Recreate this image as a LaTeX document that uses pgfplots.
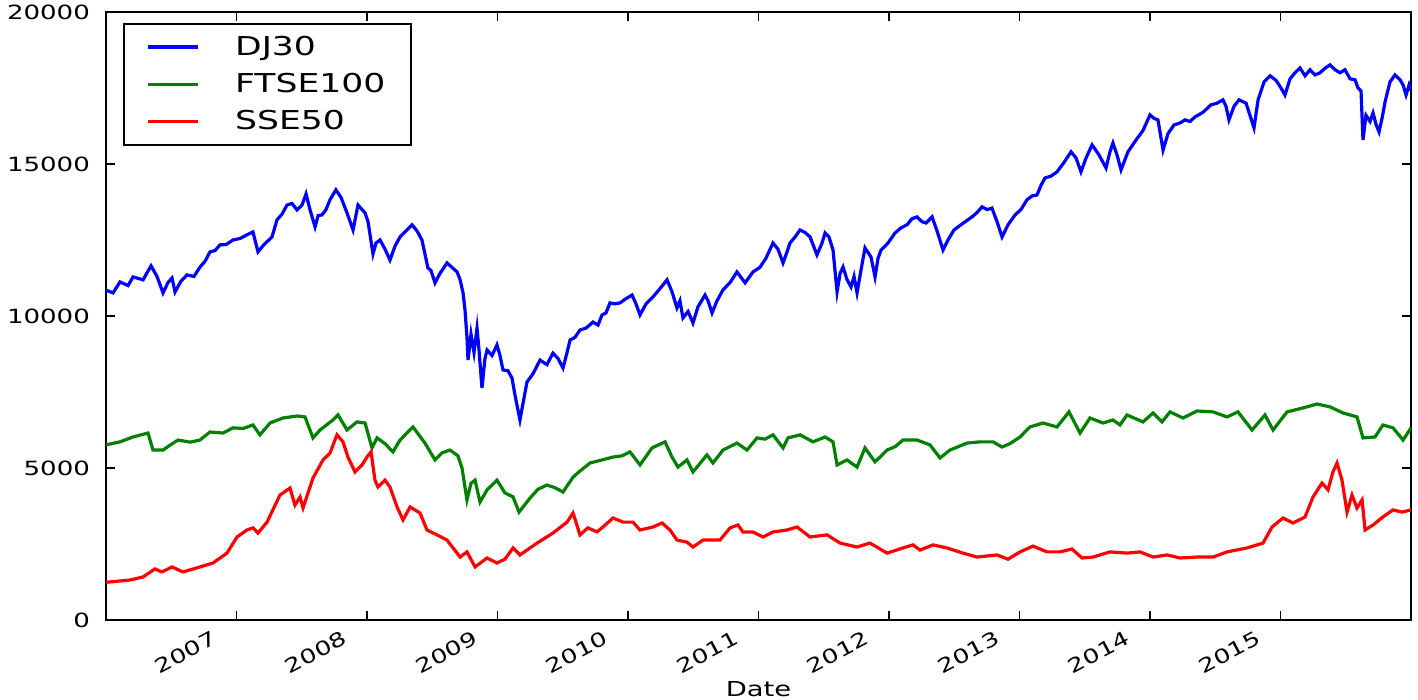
\documentclass[border=0pt]{standalone}
\usepackage{fontspec}
\setmainfont{DejaVu Sans}[FakeStretch=1.33]
\usepackage{pgfplots}
\pgfplotsset{compat=1.18}
\definecolor{mplblue}{RGB}{0,0,255}
\definecolor{mplgreen}{RGB}{0,128,0}
\definecolor{mplred}{RGB}{255,0,0}
\begin{document}
\begin{tikzpicture}
\begin{axis}[
  at={(53pt,40pt)}, anchor=south west,
  scale only axis, width=652.5pt, height=304pt,
  xmin=2006, xmax=2016, ymin=0, ymax=20000,
  xtick={2007,2008,2009,2010,2011,2012,2013,2014,2015},
  ytick={0,5000,10000,15000,20000},
  scaled y ticks=false, scaled x ticks=false,
  /pgf/number format/1000 sep={},
  /pgf/number format/assume math mode=true,
  tick pos=both, tick align=inside,
  major tick length=4.5pt,
  every tick/.style={black, line width=0.8pt},
  axis line style={line width=1pt},
  tick label style={font=\fontsize{9.8}{11}\selectfont},
  yticklabel style={xshift=-4.5pt},
  xticklabel style={rotate=28, anchor=north east, xshift=-10pt, yshift=5pt},
  xlabel={Date},
  xlabel style={at={(axis description cs:0.5,0)}, anchor=base, yshift=-38.5pt, font=\fontsize{10.3}{12}\selectfont},
  legend style={at={(0.013,0.982)}, anchor=north west, draw=black, line width=1pt,
    font=\fontsize{13}{15.6}\selectfont, inner xsep=11pt, inner ysep=4pt, row sep=3.5pt,
    cells={anchor=west}},
  legend cell align=left,
  legend image code/.code={\draw[#1] (0pt,0pt) -- (25pt,0pt); \path (41pt,0pt);},
]
\addplot[mplblue, line width=1.6pt] table[row sep=\\] {
x y\\
2006.000 10850\\ 2006.054 10760\\ 2006.107 11120\\ 2006.169 11000\\ 2006.207 11285\\ 2006.284 11190\\
2006.345 11650\\ 2006.391 11300\\ 2006.437 10760\\ 2006.475 11100\\ 2006.506 11250\\ 2006.529 10790\\
2006.575 11150\\ 2006.621 11350\\ 2006.674 11300\\ 2006.720 11610\\ 2006.759 11800\\ 2006.797 12110\\
2006.835 12150\\ 2006.874 12340\\ 2006.920 12350\\ 2006.973 12500\\ 2007.027 12550\\ 2007.080 12670\\
2007.126 12765\\ 2007.165 12110\\ 2007.211 12350\\ 2007.272 12600\\ 2007.310 13160\\ 2007.349 13350\\
2007.387 13650\\ 2007.425 13700\\ 2007.464 13490\\ 2007.502 13650\\ 2007.533 14015\\ 2007.563 13500\\
2007.602 12930\\ 2007.625 13300\\ 2007.655 13325\\ 2007.686 13500\\ 2007.716 13820\\ 2007.762 14150\\
2007.801 13900\\ 2007.847 13390\\ 2007.893 12830\\ 2007.931 13650\\ 2007.962 13500\\ 2007.985 13390\\
2008.008 13100\\ 2008.046 12040\\ 2008.069 12400\\ 2008.100 12500\\ 2008.138 12200\\ 2008.176 11840\\
2008.215 12300\\ 2008.253 12600\\ 2008.299 12800\\ 2008.345 13000\\ 2008.383 12800\\ 2008.421 12500\\
2008.467 11580\\ 2008.490 11500\\ 2008.521 11090\\ 2008.559 11400\\ 2008.613 11745\\ 2008.651 11600\\
2008.690 11450\\ 2008.713 11200\\ 2008.736 10760\\ 2008.751 10200\\ 2008.766 9310\\ 2008.774 8550\\
2008.797 9400\\ 2008.820 8800\\ 2008.843 9600\\ 2008.858 8900\\ 2008.881 7630\\ 2008.904 8600\\
2008.920 8880\\ 2008.958 8700\\ 2008.996 9050\\ 2009.019 8700\\ 2009.042 8225\\ 2009.080 8200\\
2009.111 7960\\ 2009.134 7400\\ 2009.172 6580\\ 2009.203 7300\\ 2009.226 7830\\ 2009.272 8100\\
2009.326 8550\\ 2009.379 8400\\ 2009.425 8780\\ 2009.464 8600\\ 2009.502 8290\\ 2009.533 8800\\
2009.556 9210\\ 2009.594 9300\\ 2009.632 9540\\ 2009.678 9600\\ 2009.732 9800\\ 2009.770 9700\\
2009.801 10035\\ 2009.831 10100\\ 2009.862 10430\\ 2009.900 10400\\ 2009.939 10430\\ 2009.977 10550\\
2010.031 10690\\ 2010.061 10400\\ 2010.092 10035\\ 2010.138 10400\\ 2010.192 10630\\ 2010.245 10900\\
2010.299 11190\\ 2010.337 10800\\ 2010.375 10265\\ 2010.398 10500\\ 2010.421 9935\\ 2010.460 10150\\
2010.498 9770\\ 2010.536 10300\\ 2010.590 10690\\ 2010.613 10500\\ 2010.644 10100\\ 2010.682 10500\\
2010.728 10860\\ 2010.782 11100\\ 2010.835 11450\\ 2010.897 11090\\ 2010.958 11450\\ 2011.011 11600\\
2011.057 11900\\ 2011.111 12400\\ 2011.149 12200\\ 2011.188 11745\\ 2011.218 12100\\ 2011.241 12400\\
2011.280 12600\\ 2011.318 12830\\ 2011.356 12750\\ 2011.395 12600\\ 2011.448 12010\\ 2011.487 12400\\
2011.510 12730\\ 2011.540 12600\\ 2011.571 12170\\ 2011.602 10790\\ 2011.625 11400\\ 2011.648 11610\\
2011.678 11200\\ 2011.709 10955\\ 2011.732 11300\\ 2011.755 10760\\ 2011.785 11500\\ 2011.816 12240\\
2011.862 11940\\ 2011.893 11285\\ 2011.916 11900\\ 2011.939 12170\\ 2011.992 12400\\ 2012.046 12730\\
2012.092 12900\\ 2012.138 13000\\ 2012.176 13200\\ 2012.215 13260\\ 2012.253 13100\\ 2012.284 13060\\
2012.330 13260\\ 2012.368 12800\\ 2012.414 12170\\ 2012.452 12500\\ 2012.498 12830\\ 2012.567 13050\\
2012.636 13260\\ 2012.674 13400\\ 2012.713 13590\\ 2012.751 13500\\ 2012.789 13550\\ 2012.828 13100\\
2012.866 12600\\ 2012.912 13000\\ 2012.966 13325\\ 2013.011 13500\\ 2013.057 13820\\ 2013.096 13950\\
2013.134 13980\\ 2013.165 14300\\ 2013.195 14540\\ 2013.241 14600\\ 2013.287 14740\\ 2013.341 15050\\
2013.395 15400\\ 2013.433 15200\\ 2013.471 14740\\ 2013.510 15200\\ 2013.556 15630\\ 2013.609 15300\\
2013.663 14870\\ 2013.693 15400\\ 2013.716 15690\\ 2013.747 15300\\ 2013.778 14805\\ 2013.831 15400\\
2013.893 15790\\ 2013.946 16100\\ 2014.000 16615\\ 2014.031 16500\\ 2014.061 16450\\ 2014.100 15460\\
2014.138 16000\\ 2014.184 16285\\ 2014.230 16350\\ 2014.268 16450\\ 2014.307 16400\\ 2014.345 16550\\
2014.406 16700\\ 2014.467 16945\\ 2014.513 17000\\ 2014.559 17110\\ 2014.582 16900\\ 2014.605 16450\\
2014.644 16900\\ 2014.682 17110\\ 2014.736 17000\\ 2014.766 16600\\ 2014.797 16190\\ 2014.828 17110\\
2014.874 17700\\ 2014.920 17900\\ 2014.966 17750\\ 2015.004 17500\\ 2015.034 17270\\ 2015.073 17800\\
2015.111 18000\\ 2015.149 18160\\ 2015.188 17900\\ 2015.226 18100\\ 2015.264 17930\\ 2015.303 18000\\
2015.341 18150\\ 2015.379 18260\\ 2015.418 18100\\ 2015.456 18000\\ 2015.494 18100\\ 2015.533 17800\\
2015.571 17770\\ 2015.594 17500\\ 2015.617 17400\\ 2015.632 15790\\ 2015.655 16600\\ 2015.686 16400\\
2015.709 16680\\ 2015.732 16300\\ 2015.755 16055\\ 2015.778 16500\\ 2015.801 17040\\ 2015.839 17700\\
2015.877 17930\\ 2015.916 17770\\ 2015.939 17600\\ 2015.962 17270\\ 2015.985 17600\\ 2016.000 17420\\
};
\addlegendentry{DJ30}
\addplot[mplgreen, line width=1.6pt] table[row sep=\\] {
x y\\
2006.000 5760\\ 2006.107 5860\\ 2006.207 6020\\ 2006.322 6150\\ 2006.360 5590\\ 2006.437 5590\\
2006.490 5750\\ 2006.552 5920\\ 2006.644 5850\\ 2006.720 5920\\ 2006.797 6185\\ 2006.897 6150\\
2006.973 6320\\ 2007.050 6300\\ 2007.126 6415\\ 2007.180 6090\\ 2007.257 6480\\ 2007.356 6645\\
2007.464 6710\\ 2007.525 6680\\ 2007.586 5990\\ 2007.640 6250\\ 2007.739 6580\\ 2007.778 6745\\
2007.847 6250\\ 2007.923 6515\\ 2007.985 6480\\ 2008.038 5660\\ 2008.077 5990\\ 2008.138 5800\\
2008.199 5530\\ 2008.253 5920\\ 2008.352 6350\\ 2008.444 5820\\ 2008.521 5265\\ 2008.575 5500\\
2008.636 5590\\ 2008.697 5400\\ 2008.728 5000\\ 2008.766 3950\\ 2008.797 4500\\ 2008.828 4600\\
2008.866 3880\\ 2008.920 4280\\ 2008.996 4600\\ 2009.057 4180\\ 2009.119 4050\\ 2009.165 3550\\
2009.249 4010\\ 2009.310 4300\\ 2009.379 4440\\ 2009.441 4350\\ 2009.502 4210\\ 2009.579 4700\\
2009.632 4900\\ 2009.709 5165\\ 2009.801 5265\\ 2009.885 5360\\ 2009.954 5400\\ 2010.015 5530\\
2010.092 5100\\ 2010.184 5660\\ 2010.284 5860\\ 2010.337 5360\\ 2010.383 5030\\ 2010.452 5265\\
2010.498 4870\\ 2010.605 5430\\ 2010.651 5165\\ 2010.728 5590\\ 2010.835 5820\\ 2010.912 5590\\
2010.989 5990\\ 2011.050 5950\\ 2011.111 6090\\ 2011.188 5660\\ 2011.226 5990\\ 2011.318 6090\\
2011.418 5860\\ 2011.510 6020\\ 2011.571 5860\\ 2011.602 5100\\ 2011.678 5265\\ 2011.755 5030\\
2011.816 5660\\ 2011.893 5200\\ 2011.985 5590\\ 2012.046 5700\\ 2012.107 5920\\ 2012.215 5920\\
2012.314 5760\\ 2012.391 5330\\ 2012.467 5590\\ 2012.598 5820\\ 2012.697 5860\\ 2012.797 5860\\
2012.866 5690\\ 2012.927 5800\\ 2013.004 6020\\ 2013.080 6350\\ 2013.180 6480\\ 2013.287 6350\\
2013.379 6845\\ 2013.464 6150\\ 2013.540 6645\\ 2013.640 6480\\ 2013.716 6580\\ 2013.770 6415\\
2013.824 6745\\ 2013.946 6515\\ 2014.023 6810\\ 2014.092 6515\\ 2014.153 6845\\ 2014.253 6645\\
2014.360 6875\\ 2014.483 6845\\ 2014.590 6680\\ 2014.674 6845\\ 2014.782 6250\\ 2014.881 6745\\
2014.943 6250\\ 2015.050 6845\\ 2015.172 6975\\ 2015.280 7105\\ 2015.379 7010\\ 2015.479 6810\\
2015.586 6680\\ 2015.632 5990\\ 2015.724 6020\\ 2015.785 6415\\ 2015.862 6320\\ 2015.939 5920\\
2016.000 6320\\
};
\addlegendentry{FTSE100}
\addplot[mplred, line width=1.6pt] table[row sep=\\] {
x y\\
2006.000 1240\\ 2006.184 1315\\ 2006.284 1415\\ 2006.375 1680\\ 2006.429 1580\\ 2006.506 1745\\
2006.590 1580\\ 2006.720 1745\\ 2006.820 1875\\ 2006.927 2200\\ 2007.004 2730\\ 2007.080 2960\\
2007.126 3030\\ 2007.165 2860\\ 2007.234 3220\\ 2007.333 4110\\ 2007.410 4340\\ 2007.448 3780\\
2007.487 4045\\ 2007.510 3685\\ 2007.586 4670\\ 2007.663 5265\\ 2007.716 5490\\ 2007.770 6090\\
2007.816 5860\\ 2007.854 5360\\ 2007.908 4870\\ 2007.962 5100\\ 2008.000 5360\\ 2008.031 5530\\
2008.061 4600\\ 2008.084 4375\\ 2008.138 4600\\ 2008.176 4375\\ 2008.230 3720\\ 2008.276 3290\\
2008.330 3720\\ 2008.406 3520\\ 2008.460 2960\\ 2008.536 2800\\ 2008.613 2630\\ 2008.713 2070\\
2008.766 2240\\ 2008.828 1745\\ 2008.920 2040\\ 2008.996 1875\\ 2009.057 2000\\ 2009.119 2370\\
2009.172 2140\\ 2009.303 2530\\ 2009.425 2860\\ 2009.533 3220\\ 2009.579 3520\\ 2009.632 2800\\
2009.693 3030\\ 2009.762 2900\\ 2009.808 3060\\ 2009.885 3355\\ 2009.962 3220\\ 2010.038 3220\\
2010.092 2960\\ 2010.192 3060\\ 2010.261 3190\\ 2010.322 2960\\ 2010.375 2630\\ 2010.452 2560\\
2010.498 2400\\ 2010.575 2630\\ 2010.705 2630\\ 2010.782 3030\\ 2010.843 3125\\ 2010.881 2895\\
2010.958 2895\\ 2011.034 2730\\ 2011.111 2895\\ 2011.218 2960\\ 2011.295 3060\\ 2011.395 2730\\
2011.525 2800\\ 2011.625 2530\\ 2011.755 2400\\ 2011.854 2530\\ 2011.985 2200\\ 2012.107 2370\\
2012.184 2470\\ 2012.238 2300\\ 2012.337 2470\\ 2012.444 2370\\ 2012.567 2200\\ 2012.674 2070\\
2012.828 2140\\ 2012.912 2000\\ 2013.004 2240\\ 2013.103 2430\\ 2013.211 2240\\ 2013.310 2240\\
2013.402 2335\\ 2013.479 2040\\ 2013.563 2070\\ 2013.693 2240\\ 2013.824 2200\\ 2013.923 2240\\
2014.023 2070\\ 2014.130 2140\\ 2014.230 2040\\ 2014.360 2070\\ 2014.483 2070\\ 2014.590 2240\\
2014.743 2370\\ 2014.866 2530\\ 2014.935 3060\\ 2015.019 3355\\ 2015.096 3190\\ 2015.188 3390\\
2015.249 4045\\ 2015.318 4505\\ 2015.364 4280\\ 2015.402 4870\\ 2015.433 5165\\ 2015.471 4600\\
2015.510 3550\\ 2015.548 4110\\ 2015.586 3685\\ 2015.625 3950\\ 2015.648 2960\\ 2015.709 3125\\
2015.785 3390\\ 2015.862 3620\\ 2015.931 3550\\ 2016.000 3620\\
};
\addlegendentry{SSE50}
\end{axis}
\pgfresetboundingbox
\useasboundingbox (0,0) rectangle (709pt,350pt);
\end{tikzpicture}
\end{document}
